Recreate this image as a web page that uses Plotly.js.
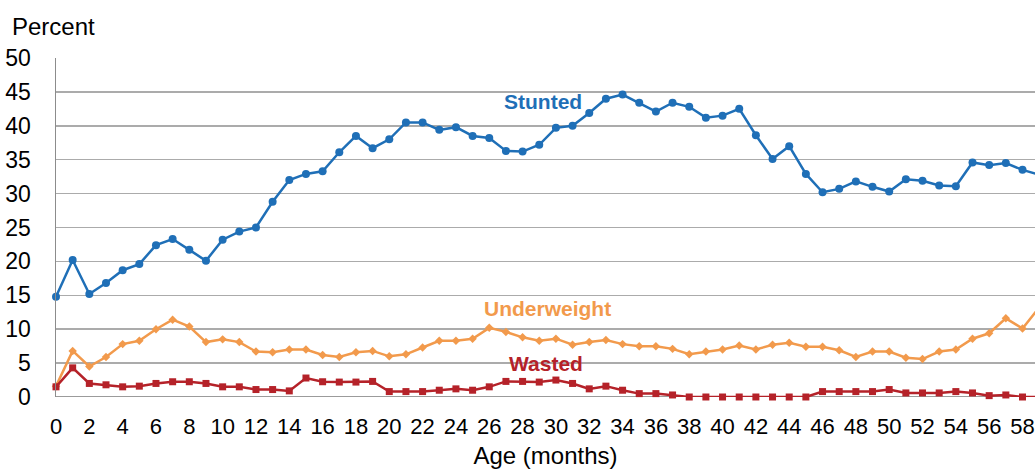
<!DOCTYPE html>
<html>
<head>
<meta charset="utf-8">
<script src="https://cdn.plot.ly/plotly-3.0.1.min.js"></script>
<style>html,body{margin:0;padding:0;background:#fff;}#chart{width:1035px;height:471px;}</style>
</head>
<body>
<div id="chart"></div>
<script>
const ages = [];
for (let m = 0; m <= 59; m++) ages.push(m);

const stunted = [14.8,20.2,15.2,16.8,18.7,19.6,22.4,23.3,21.7,20.1,
  23.2,24.4,25.0,28.8,32.0,32.9,33.3,36.1,38.5,36.7,
  38.0,40.5,40.5,39.4,39.8,38.5,38.2,36.3,36.2,37.2,
  39.7,40.0,41.9,44.0,44.6,43.4,42.1,43.4,42.8,41.2,
  41.5,42.5,38.6,35.1,37.0,32.9,30.2,30.7,31.8,31.0,
  30.3,32.1,31.9,31.2,31.1,34.6,34.2,34.5,33.5,32.8];

const underweight = [1.6,6.8,4.5,5.9,7.8,8.3,10.0,11.4,10.4,8.1,
  8.5,8.1,6.7,6.6,7.0,7.0,6.2,5.9,6.6,6.8,
  6.0,6.3,7.3,8.3,8.3,8.6,10.2,9.6,8.8,8.3,
  8.6,7.7,8.1,8.4,7.8,7.5,7.5,7.1,6.3,6.7,
  7.0,7.6,7.0,7.7,8.0,7.4,7.4,6.9,5.9,6.7,
  6.7,5.8,5.6,6.7,7.0,8.6,9.4,11.6,10.1,13.2];

const wasted = [1.5,4.3,2.0,1.8,1.5,1.6,2.0,2.25,2.25,2.0,
  1.5,1.5,1.1,1.1,0.9,2.8,2.25,2.2,2.2,2.3,
  0.8,0.8,0.8,1.0,1.2,1.0,1.5,2.3,2.3,2.2,
  2.5,2.0,1.2,1.6,1.0,0.5,0.5,0.3,0.0,0.0,
  0.0,0.0,0.0,0.0,0.0,0.0,0.8,0.8,0.8,0.8,
  1.1,0.6,0.6,0.6,0.8,0.6,0.2,0.3,0.0,0.0];

const xTicks = [];
for (let m = 0; m <= 58; m += 2) xTicks.push(m);
const yTicks = [0,5,10,15,20,25,30,35,40,45,50];

const seriesNames = ['Stunted','Underweight','Wasted'];
const colors = ['#1f6fb7','#f29a4c','#b52229'];

const traces = [
  {x: ages, y: stunted, name: seriesNames[0], type: 'scatter', mode: 'lines+markers',
   line: {color: colors[0], width: 2.5}, marker: {symbol: 'circle', size: 8, color: colors[0]}, cliponaxis: false},
  {x: ages, y: underweight, name: seriesNames[1], type: 'scatter', mode: 'lines+markers',
   line: {color: colors[1], width: 2.5}, marker: {symbol: 'diamond', size: 6.5, color: colors[1]}, cliponaxis: false},
  {x: ages, y: wasted, name: seriesNames[2], type: 'scatter', mode: 'lines+markers',
   line: {color: colors[2], width: 2.5}, marker: {symbol: 'square', size: 7, color: colors[2]}, cliponaxis: false}
];

const fontFam = 'Liberation Sans, Arial, sans-serif';

const layout = {
  width: 1035, height: 471,
  margin: {l: 56, r: 0, t: 58, b: 74},
  paper_bgcolor: '#fff', plot_bgcolor: '#fff',
  showlegend: false,
  font: {family: fontFam, color: '#000'},
  xaxis: {
    range: [0, 58.75], tickvals: xTicks, ticktext: xTicks.map(String),
    showgrid: false, zeroline: false, showline: false,
    ticks: '', ticklabelstandoff: 14,
    tickfont: {size: 22, family: fontFam, color: '#000'},
    title: {text: 'Age (months)', font: {size: 24, family: fontFam, color: '#000'}, standoff: 9}
  },
  yaxis: {
    range: [0, 50], tickvals: yTicks, ticktext: yTicks.map(String),
    showgrid: true, gridcolor: '#ababab', gridwidth: 1.5,
    zeroline: false, showline: true, linecolor: '#8c8c8c', linewidth: 1.5,
    ticks: '', ticklabelstandoff: 19,
    tickfont: {size: 23, family: fontFam, color: '#000'}
  },
  shapes: [
    {type: 'line', xref: 'paper', yref: 'y', x0: 0, x1: 1, y0: 0, y1: 0,
     line: {color: '#7a7a7a', width: 1.5}, layer: 'below'}
  ],
  annotations: [
    {text: 'Percent', xref: 'paper', yref: 'paper', x: 0, y: 1, xanchor: 'left', yanchor: 'bottom',
     xshift: -46, yshift: 16, showarrow: false, font: {size: 24, family: fontFam, color: '#000'}},
    {text: '<b>' + seriesNames[0] + '</b>', x: 29.2, y: 43.6, xref: 'x', yref: 'y', showarrow: false,
     font: {size: 21, family: fontFam, color: colors[0]}},
    {text: '<b>' + seriesNames[1] + '</b>', x: 29.5, y: 13.0, xref: 'x', yref: 'y', showarrow: false,
     font: {size: 21, family: fontFam, color: colors[1]}},
    {text: '<b>' + seriesNames[2] + '</b>', x: 29.4, y: 4.9, xref: 'x', yref: 'y', showarrow: false,
     font: {size: 21, family: fontFam, color: colors[2]}}
  ]
};

Plotly.newPlot('chart', traces, layout, {staticPlot: true, displayModeBar: false});
</script>
</body>
</html>
